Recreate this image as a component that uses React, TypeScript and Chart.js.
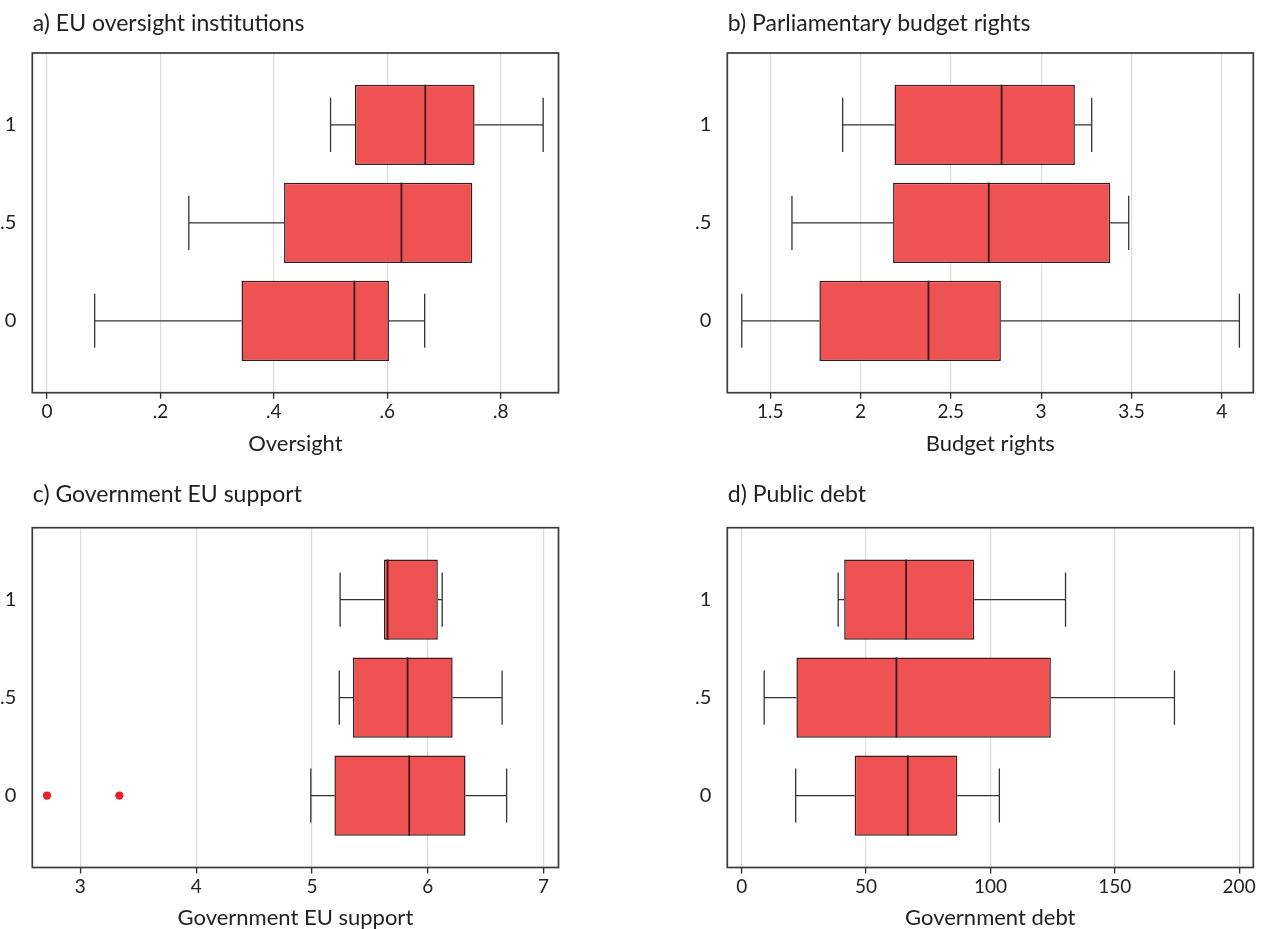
import React, { useEffect, useRef } from "react";
import { Chart, registerables } from "chart.js";
Chart.register(...registerables);

// Groups (y axis)
const groupValues = [0, 0.5, 1];
const groupLabels = ["0", ".5", "1"];

// a) EU oversight institutions
const oversightMin = [0.084, 0.25, 0.5];
const oversightQ1 = [0.343, 0.418, 0.543];
const oversightMedian = [0.542, 0.625, 0.667];
const oversightQ3 = [0.603, 0.75, 0.754];
const oversightMax = [0.666, 0.75, 0.875];
const oversightOutliers: number[][] = [[], [], []];
const oversightTicks = [0, 0.2, 0.4, 0.6, 0.8];
const oversightTickLabels = ["0", ".2", ".4", ".6", ".8"];

// b) Parliamentary budget rights
const budgetMin = [1.342, 1.62, 1.901];
const budgetQ1 = [1.772, 2.18, 2.188];
const budgetMedian = [2.376, 2.71, 2.781];
const budgetQ3 = [2.777, 3.383, 3.187];
const budgetMax = [4.098, 3.485, 3.28];
const budgetOutliers: number[][] = [[], [], []];
const budgetTicks = [1.5, 2, 2.5, 3, 3.5, 4];
const budgetTickLabels = ["1.5", "2", "2.5", "3", "3.5", "4"];

// c) Government EU support
const supportMin = [4.99, 5.236, 5.243];
const supportQ1 = [5.194, 5.354, 5.622];
const supportMedian = [5.84, 5.826, 5.653];
const supportQ3 = [6.326, 6.215, 6.087];
const supportMax = [6.681, 6.642, 6.125];
const supportOutliers: number[][] = [[2.712, 3.337], [], []];
const supportTicks = [3, 4, 5, 6, 7];
const supportTickLabels = ["3", "4", "5", "6", "7"];

// d) Public debt
const debtMin = [21.7, 9.05, 38.8];
const debtQ1 = [45.4, 22.0, 41.2];
const debtMedian = [66.8, 62.2, 66.1];
const debtQ3 = [86.7, 124.3, 93.5];
const debtMax = [103.6, 174.0, 130.2];
const debtOutliers: number[][] = [[], [], []];
const debtTicks = [0, 50, 100, 150, 200];
const debtTickLabels = ["0", "50", "100", "150", "200"];

const FONT = "Lato, 'Noto Sans', sans-serif";
const TEXT_COLOR = "#222222";
const BOX_FILL = "#EE5252";
const BOX_EDGE = "#3c1c1c";
const LINE_COLOR = "#333333";
const OUTLIER_COLOR = "#E8222A";

type Panel = {
  title: string;
  axisTitle: string;
  min: number[];
  q1: number[];
  med: number[];
  q3: number[];
  max: number[];
  outliers: number[][];
  ticks: number[];
  tickLabels: string[];
  xMin: number;
  xMax: number;
  box: { left: number; top: number; width: number; height: number };
  area: { left: number; right: number; top: number; bottom: number };
  titleBaseline: number;
  axisTitlePad: number;
};

const panels: Panel[] = [
  {
    title: "a) EU oversight institutions",
    axisTitle: "Oversight",
    min: oversightMin, q1: oversightQ1, med: oversightMedian, q3: oversightQ3, max: oversightMax,
    outliers: oversightOutliers, ticks: oversightTicks, tickLabels: oversightTickLabels,
    xMin: -0.026, xMax: 0.902,
    box: { left: 0, top: 0, width: 631, height: 470 },
    area: { left: 32.3, right: 558.5, top: 53, bottom: 392.7 },
    titleBaseline: 30.5,
    axisTitlePad: 15.3,
  },
  {
    title: "b) Parliamentary budget rights",
    axisTitle: "Budget rights",
    min: budgetMin, q1: budgetQ1, med: budgetMedian, q3: budgetQ3, max: budgetMax,
    outliers: budgetOutliers, ticks: budgetTicks, tickLabels: budgetTickLabels,
    xMin: 1.262, xMax: 4.175,
    box: { left: 631, top: 0, width: 631, height: 470 },
    area: { left: 96.3, right: 622.3, top: 53, bottom: 392.7 },
    titleBaseline: 30.5,
    axisTitlePad: 15.3,
  },
  {
    title: "c) Government EU support",
    axisTitle: "Government EU support",
    min: supportMin, q1: supportQ1, med: supportMedian, q3: supportQ3, max: supportMax,
    outliers: supportOutliers, ticks: supportTicks, tickLabels: supportTickLabels,
    xMin: 2.585, xMax: 7.129,
    box: { left: 0, top: 470, width: 631, height: 459 },
    area: { left: 32.3, right: 558.5, top: 57.7, bottom: 397.5 },
    titleBaseline: 32,
    axisTitlePad: 0,
  },
  {
    title: "d) Public debt",
    axisTitle: "Government debt",
    min: debtMin, q1: debtQ1, med: debtMedian, q3: debtQ3, max: debtMax,
    outliers: debtOutliers, ticks: debtTicks, tickLabels: debtTickLabels,
    xMin: -5.79, xMax: 205.7,
    box: { left: 631, top: 470, width: 631, height: 459 },
    area: { left: 96.3, right: 622.3, top: 57.7, bottom: 397.5 },
    titleBaseline: 32,
    axisTitlePad: 0,
  },
];

const CAP_HALF = 0.138; // in y-axis units

function makeBoxPlugin(p: Panel) {
  return {
    id: "boxparts",
    beforeDatasetsDraw(chart: any) {
      const ctx = chart.ctx;
      const xs = chart.scales.x;
      const ys = chart.scales.y;
      ctx.save();
      ctx.strokeStyle = LINE_COLOR;
      ctx.lineWidth = 1.3;
      groupValues.forEach((g, i) => {
        const y = ys.getPixelForValue(g);
        const y0 = ys.getPixelForValue(g + CAP_HALF);
        const y1 = ys.getPixelForValue(g - CAP_HALF);
        const xl = xs.getPixelForValue(p.min[i]);
        const xq1 = xs.getPixelForValue(p.q1[i]);
        const xq3 = xs.getPixelForValue(p.q3[i]);
        const xh = xs.getPixelForValue(p.max[i]);
        ctx.beginPath();
        ctx.moveTo(xl, y);
        ctx.lineTo(xq1, y);
        ctx.moveTo(xq3, y);
        ctx.lineTo(xh, y);
        if (p.min[i] < p.q1[i]) {
          ctx.moveTo(xl, y0);
          ctx.lineTo(xl, y1);
        }
        if (p.max[i] > p.q3[i]) {
          ctx.moveTo(xh, y0);
          ctx.lineTo(xh, y1);
        }
        ctx.stroke();
      });
      ctx.restore();
    },
    afterDatasetsDraw(chart: any) {
      const ctx = chart.ctx;
      const xs = chart.scales.x;
      const ys = chart.scales.y;
      const meta = chart.getDatasetMeta(0);
      ctx.save();
      ctx.strokeStyle = BOX_EDGE;
      ctx.lineWidth = 1.8;
      groupValues.forEach((g, i) => {
        const el: any = meta.data[i];
        const xm = xs.getPixelForValue(p.med[i]);
        ctx.beginPath();
        ctx.moveTo(xm, el.y - el.height / 2);
        ctx.lineTo(xm, el.y + el.height / 2);
        ctx.stroke();
      });
      ctx.fillStyle = OUTLIER_COLOR;
      groupValues.forEach((g, i) => {
        const y = ys.getPixelForValue(g);
        p.outliers[i].forEach((v) => {
          ctx.beginPath();
          ctx.arc(xs.getPixelForValue(v), y, 4.2, 0, Math.PI * 2);
          ctx.fill();
        });
      });
      const a = chart.chartArea;
      ctx.strokeStyle = "#3a3a3a";
      ctx.lineWidth = 1.7;
      ctx.strokeRect(a.left, a.top, a.right - a.left, a.bottom - a.top);
      ctx.restore();
    },
    afterDraw(chart: any) {
      const ctx = chart.ctx;
      ctx.save();
      ctx.fillStyle = TEXT_COLOR;
      ctx.font = `23px ${FONT}`;
      ctx.textAlign = "left";
      ctx.textBaseline = "alphabetic";
      ctx.fillText(p.title, chart.chartArea.left + 0.5, p.titleBaseline);
      ctx.restore();
    },
  };
}

function PanelChart({ p }: { p: Panel }) {
  const ref = useRef<HTMLCanvasElement | null>(null);
  useEffect(() => {
    if (!ref.current) return;
    const chart = new Chart(ref.current, {
      type: "bar",
      data: {
        datasets: [
          {
            data: groupValues.map((g, i) => ({ y: g, x: [p.q1[i], p.q3[i]] })) as any,
            backgroundColor: BOX_FILL,
            borderColor: BOX_EDGE,
            borderWidth: 1.5,
            borderSkipped: false,
            categoryPercentage: 1,
            barPercentage: 0.82,
          },
        ],
      },
      options: {
        indexAxis: "y",
        responsive: false,
        animation: false,
        devicePixelRatio: 1,
        events: [],
        layout: {
          padding: {
            left: 0,
            top: p.area.top,
            right: p.box.width - p.area.right,
            bottom: 0,
          },
        },
        plugins: {
          legend: { display: false },
          tooltip: { enabled: false },
          title: { display: false },
        },
        scales: {
          x: {
            type: "linear",
            position: "bottom",
            min: p.xMin,
            max: p.xMax,
            offset: false,
            afterBuildTicks: (s: any) => {
              s.ticks = p.ticks.map((v) => ({ value: v }));
            },
            afterFit: (s: any) => {
              s.height = p.box.height - p.area.bottom;
            },
            ticks: {
              autoSkip: false,
              maxRotation: 0,
              minRotation: 0,
              padding: 2,
              color: TEXT_COLOR,
              font: { family: FONT, size: 19 },
              callback: (v: any) => {
                const idx = p.ticks.findIndex((t) => Math.abs(t - Number(v)) < 1e-9);
                return idx >= 0 ? p.tickLabels[idx] : "";
              },
            },
            grid: {
              display: true,
              drawOnChartArea: true,
              drawTicks: true,
              tickLength: 6,
              color: "#dddddd",
              lineWidth: 1.2,
              tickColor: "#333333",
              tickWidth: 1.4,
              offset: false,
            },
            border: { display: false },
            title: {
              display: true,
              text: p.axisTitle,
              color: TEXT_COLOR,
              font: { family: FONT, size: 22, lineHeight: 1 },
              padding: { top: 0, bottom: p.axisTitlePad },
            },
          },
          y: {
            type: "linear",
            min: -0.367,
            max: 1.367,
            offset: false,
            afterBuildTicks: (s: any) => {
              s.ticks = groupValues.map((v) => ({ value: v }));
            },
            afterFit: (s: any) => {
              s.width = p.area.left;
            },
            ticks: {
              autoSkip: false,
              padding: 8,
              color: TEXT_COLOR,
              font: { family: FONT, size: 20 },
              callback: (v: any) => {
                const idx = groupValues.findIndex((t) => Math.abs(t - Number(v)) < 1e-9);
                return idx >= 0 ? groupLabels[idx] : "";
              },
            },
            grid: { display: false, offset: false },
            border: { display: false },
          },
        },
      } as any,
      plugins: [makeBoxPlugin(p)],
    });
    return () => chart.destroy();
  }, [p]);
  return (
    <canvas
      ref={ref}
      width={p.box.width}
      height={p.box.height}
      style={{
        position: "absolute",
        left: p.box.left,
        top: p.box.top,
        width: p.box.width,
        height: p.box.height,
      }}
    />
  );
}

export default function App() {
  return (
    <div
      style={{
        position: "fixed",
        left: 0,
        top: 0,
        width: 1262,
        height: 929,
        overflow: "hidden",
        background: "#ffffff",
      }}
    >
      {panels.map((p) => (
        <PanelChart key={p.title} p={p} />
      ))}
    </div>
  );
}
